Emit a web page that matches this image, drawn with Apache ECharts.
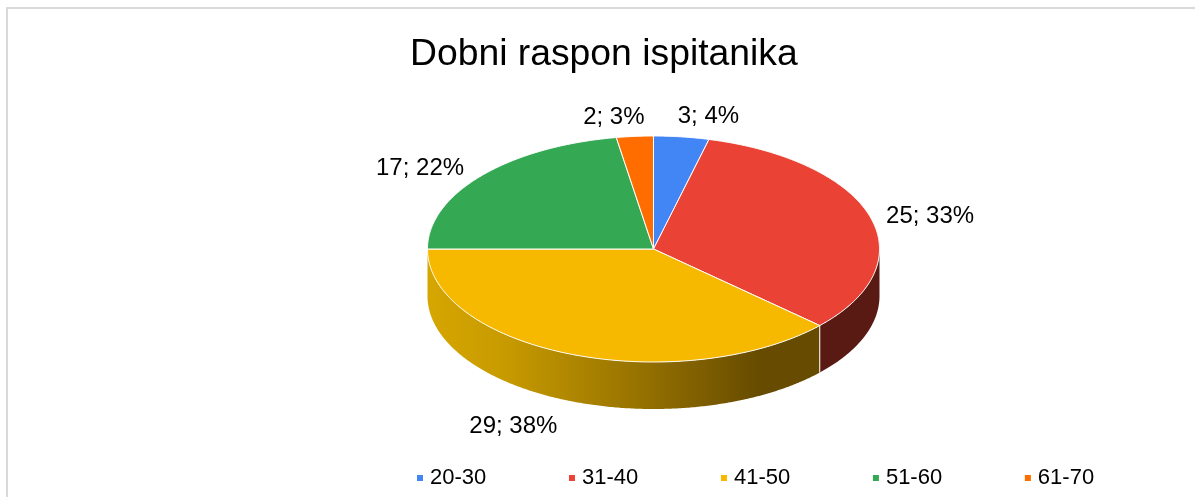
<!DOCTYPE html>
<html>
<head>
<meta charset="utf-8">
<style>
    html, body { margin: 0; padding: 0; background: #fff; }
    #chart { width: 1195px; height: 497px; }
</style>
<script src="https://cdn.jsdelivr.net/npm/echarts@6/dist/echarts.min.js"></script>
</head>
<body>
<div id="chart"></div>
<script>
const categories = ['20-30', '31-40', '41-50', '51-60', '61-70'];
const values = [3, 25, 29, 17, 2];

const colorList = ['#4285F4', '#EA4335', '#F7B900', '#34A853', '#FF6D01'];
const total = values.reduce((a, b) => a + b, 0);

// pie layout, the ellipse stands in for the tilted disc
const cx = 653.5, cy = 249, rx = 226, ry = 113, depth = 47;
// label centre relative to the rim point at the middle of each slice
const labelShift = [[27, -20], [60, 0], [-58, 72], [-61, -8], [-21, -19]];

function rimPoint(deg, dy) {
    const a = deg * Math.PI / 180;
    return [cx + rx * Math.sin(a), cy - ry * Math.cos(a) + (dy || 0)];
}

function arcPoints(from, to, dy) {
    const pts = [];
    const steps = Math.max(2, Math.ceil((to - from) * 2));
    for (let i = 0; i <= steps; i++) {
        pts.push(rimPoint(from + (to - from) * i / steps, dy));
    }
    return pts;
}

function wallFill(index) {
    if (index === 2) {
        return new echarts.graphic.LinearGradient(0, 0, 1, 0, [
            { offset: 0, color: '#D6A600' },
            { offset: 0.2, color: '#C79A00' },
            { offset: 0.5, color: '#9C7700' },
            { offset: 0.85, color: '#664B00' },
            { offset: 1, color: '#664B00' }
        ]);
    }
    return '#5A1A14';
}

function makeSeries(index) {
    const before = values.slice(0, index).reduce((a, b) => a + b, 0);
    return {
        type: 'custom',
        name: categories[index],
        coordinateSystem: 'none',
        itemStyle: { color: colorList[index] },
        data: [values[index]],
        renderItem: function (params, api) {
            const v = api.value(0);
            const start = before / total * 360;
            const end = (before + v) / total * 360;
            const mid = (start + end) / 2;
            const children = [];

            // only the front half of the disc shows its side
            const wallFrom = Math.max(start, 90), wallTo = Math.min(end, 270);
            if (wallTo > wallFrom) {
                const outer = arcPoints(wallFrom, wallTo, 0);
                const lower = arcPoints(wallFrom, wallTo, depth).reverse();
                children.push({
                    type: 'polygon',
                    shape: { points: outer.concat(lower) },
                    style: { fill: wallFill(index), stroke: null }
                });
                // white seam where two walls meet
                if (wallFrom > 90) {
                    children.push({
                        type: 'line',
                        shape: {
                            x1: outer[0][0], y1: outer[0][1],
                            x2: outer[0][0], y2: outer[0][1] + depth
                        },
                        style: { stroke: '#fff', lineWidth: 1 }
                    });
                }
            }

            children.push({
                type: 'polygon',
                shape: { points: [[cx, cy]].concat(arcPoints(start, end, 0)) },
                style: { fill: colorList[index], stroke: '#fff', lineWidth: 1, lineJoin: 'round' }
            });

            const anchor = rimPoint(mid, 0);
            children.push({
                type: 'text',
                x: anchor[0] + labelShift[index][0],
                y: anchor[1] + labelShift[index][1],
                style: {
                    text: v + '; ' + Math.round(v / total * 100) + '%',
                    fill: '#000',
                    font: '24px "Liberation Sans"',
                    align: 'center',
                    verticalAlign: 'middle'
                }
            });
            return { type: 'group', children: children };
        }
    };
}

const myChart = echarts.init(document.getElementById('chart'));
myChart.setOption({
    animation: false,
    backgroundColor: '#fff',
    title: {
        text: 'Dobni raspon ispitanika',
        left: 405,
        top: 31,
        textStyle: { fontFamily: 'Liberation Sans', fontSize: 37.3, fontWeight: 'normal', color: '#000' }
    },
    legend: {
        data: categories,
        left: 412,
        top: 462,
        icon: 'rect',
        itemWidth: 6,
        itemHeight: 6,
        itemGap: 82.7,
        textStyle: {
            fontFamily: 'Liberation Sans',
            fontSize: 22,
            color: '#000',
            padding: [0, 0, 0, 2]
        }
    },
    graphic: [
        { type: 'line', shape: { x1: 7, y1: 8, x2: 1195, y2: 8 }, style: { stroke: '#D9D9D9', lineWidth: 2 } },
        { type: 'line', shape: { x1: 7, y1: 7, x2: 7, y2: 497 }, style: { stroke: '#D9D9D9', lineWidth: 2 } }
    ],
    series: categories.map((c, i) => makeSeries(i))
});
</script>
</body>
</html>
